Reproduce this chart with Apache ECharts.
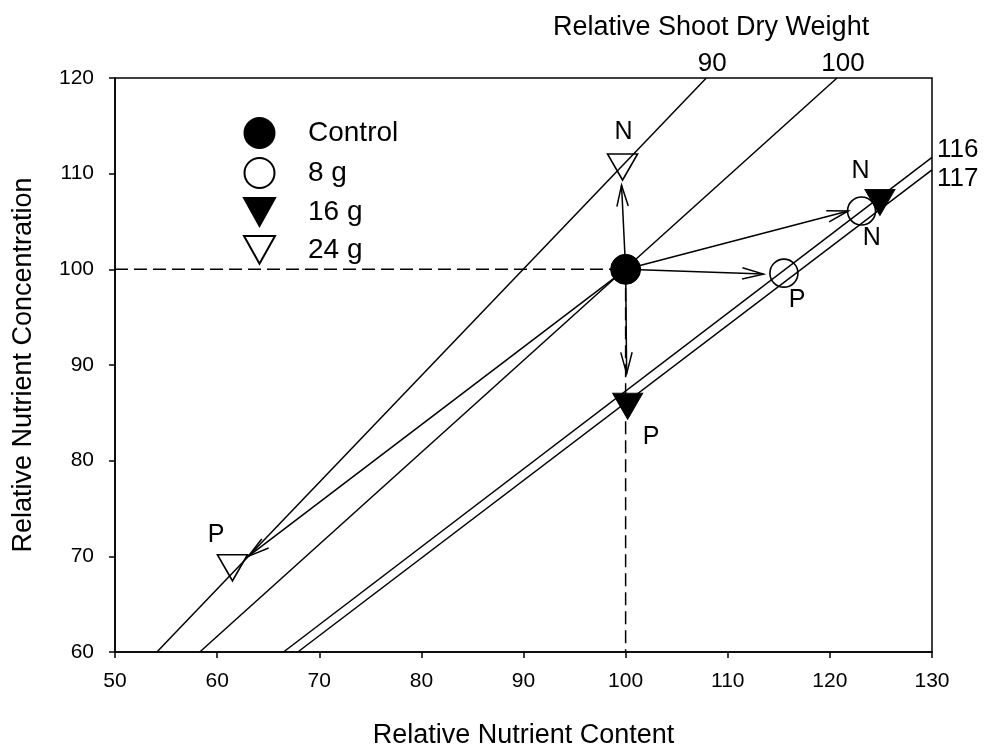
<!DOCTYPE html>
<html>
<head>
<meta charset="utf-8">
<script src="https://cdn.jsdelivr.net/npm/echarts@6/dist/echarts.min.js"></script>
<style>html,body{margin:0;padding:0;background:#fff}#c{width:986px;height:746px}</style>
</head>
<body>
<div id="c"></div>
<script>
// ---- data ----
const weightNames = ['90', '100', '116', '117'];
const weightLines = [
  [[54.1, 60], [107.9, 120]],
  [[58.3, 60], [120.7, 120]],
  [[66.5, 60], [130, 111.7]],
  [[67.9, 60], [130, 110.4]]
];
const controlPts = [[100, 100]];
const g8Pts = [[115.5, 99.6], [123.1, 106.1]];
const g16Pts = [[124.9, 107.0], [100.2, 85.7]];
const g24Pts = [[99.7, 110.7], [61.5, 68.8]];
const arrows = [
  [100, 100, 99.6, 108.8],
  [100, 100, 100.1, 89.1],
  [100, 100, 113.5, 99.5],
  [100, 100, 121.8, 106.1],
  [100, 100, 63.05, 70.0]
];
const dashedH = [[50, 100], [100, 100]];
const dashedV = [[100, 100], [100, 60]];
const annoText = ['N', 'N', 'N', 'P', 'P', 'P'];
const annoPos = [[99.8, 114.3], [123.0, 110.3], [124.1, 103.3], [116.8, 96.8], [102.5, 82.5], [59.9, 72.2]];

const FONT = 'Liberation Sans, Arial, sans-serif';
const DOWN_TRI = 'path://M0,0 L20,0 L10,18 Z';

const chart = echarts.init(document.getElementById('c'));
const series = [];
weightLines.forEach((l, i) => {
  series.push({type: 'line', data: l, symbol: 'none', silent: true, z: 1,
    lineStyle: {color: '#000', width: 1.5}});
});
series.push({type: 'line', data: dashedH, symbol: 'none', z: 1,
  lineStyle: {color: '#000', width: 1.5, type: [13, 6]}});
series.push({type: 'line', data: dashedV, symbol: 'none', z: 1,
  lineStyle: {color: '#000', width: 1.5, type: [13, 6]}});
series.push({
  type: 'custom', z: 2, data: arrows, encode: {x: [0, 2], y: [1, 3]},
  renderItem: function (params, api) {
    const p0 = api.coord([api.value(0), api.value(1)]);
    const p1 = api.coord([api.value(2), api.value(3)]);
    const a = Math.atan2(p1[1] - p0[1], p1[0] - p0[0]);
    const L = 22, phi = 15 * Math.PI / 180;
    const h1 = [p1[0] - L * Math.cos(a - phi), p1[1] - L * Math.sin(a - phi)];
    const h2 = [p1[0] - L * Math.cos(a + phi), p1[1] - L * Math.sin(a + phi)];
    return {type: 'group', children: [
      {type: 'line', shape: {x1: p0[0], y1: p0[1], x2: p1[0], y2: p1[1]}, style: {stroke: '#000', lineWidth: 1.5}},
      {type: 'polyline', shape: {points: [h1, p1, h2]}, style: {stroke: '#000', fill: null, lineWidth: 1.5}}
    ]};
  }
});
series.push({name: 'Control', type: 'scatter', data: controlPts, symbol: 'circle', symbolSize: 30, z: 3,
  itemStyle: {color: '#000', borderColor: '#000', borderWidth: 1, opacity: 1}});
series.push({name: '8 g', type: 'scatter', data: g8Pts, symbol: 'circle', symbolSize: 28, z: 3,
  itemStyle: {color: 'rgba(255,255,255,0)', borderColor: '#000', borderWidth: 1.6, opacity: 1}});
series.push({name: '16 g', type: 'scatter', data: g16Pts, symbol: DOWN_TRI, symbolSize: [30, 26], z: 3,
  itemStyle: {color: '#000', borderColor: '#000', borderWidth: 1, opacity: 1}});
series.push({name: '24 g', type: 'scatter', data: g24Pts, symbol: DOWN_TRI, symbolSize: [30, 26], z: 3,
  itemStyle: {color: 'rgba(255,255,255,0)', borderColor: '#000', borderWidth: 1.6, opacity: 1}});
// point annotations
series.push({type: 'scatter', symbolSize: 0, z: 4, silent: true,
  itemStyle: {opacity: 1},
  data: annoPos.map((p, i) => ({value: p, name: annoText[i]})),
  label: {show: true, position: 'inside', formatter: '{b}', color: '#000', fontSize: 25, fontFamily: FONT}});
// weight line labels
const wl = weightLines.map((l, i) => {
  const end = l[1];
  const isTop = end[1] >= 120;
  return {value: end, name: weightNames[i],
    label: isTop ? {position: 'top', offset: [6, 0]} : {position: 'right', offset: [4, i === 2 ? -8 : 9]}};
});
series.push({type: 'scatter', symbolSize: 0, z: 4, silent: true, clip: false, data: wl,
  itemStyle: {opacity: 1},
  label: {show: true, formatter: '{b}', color: '#000', fontSize: 26, fontFamily: FONT, distance: 1}});

chart.setOption({
  animation: false,
  backgroundColor: '#fff',
  textStyle: {fontFamily: FONT},
  graphic: [{type: 'text', left: 553, top: 14,
    style: {text: 'Relative Shoot Dry Weight', font: '27px ' + FONT, fill: '#000'}}],
  legend: {
    left: 238, top: 112, orient: 'vertical', itemWidth: 31, itemHeight: 30, itemGap: 8,
    data: ['Control', '8 g', '16 g', '24 g'],
    textStyle: {fontSize: 28, color: '#000', fontFamily: FONT, padding: [0, 0, 0, 28]},
    selectedMode: false
  },
  grid: {left: 115, top: 78, width: 817, height: 574, show: true, borderColor: '#000', borderWidth: 1.5,
    containLabel: false, outerBoundsMode: 'none'},
  xAxis: {
    type: 'value', min: 50, max: 130, interval: 10,
    name: 'Relative Nutrient Content', nameLocation: 'middle', nameGap: 70,
    nameTextStyle: {fontSize: 27, color: '#000', fontFamily: FONT},
    axisLine: {lineStyle: {color: '#000', width: 1.5}},
    axisTick: {show: true, inside: false, length: 6, lineStyle: {color: '#000', width: 1.5}},
    axisLabel: {fontSize: 21, color: '#000', margin: 19, fontFamily: FONT},
    splitLine: {show: false}
  },
  yAxis: {
    type: 'value', min: 60, max: 120, interval: 10,
    name: 'Relative Nutrient Concentration', nameLocation: 'middle', nameGap: 78,
    nameTextStyle: {fontSize: 27, color: '#000', fontFamily: FONT},
    axisLine: {lineStyle: {color: '#000', width: 1.5}},
    axisTick: {show: true, inside: false, length: 6, lineStyle: {color: '#000', width: 1.5}},
    axisLabel: {fontSize: 21, color: '#000', margin: 21, fontFamily: FONT},
    splitLine: {show: false}
  },
  series: series
});
</script>
</body>
</html>
